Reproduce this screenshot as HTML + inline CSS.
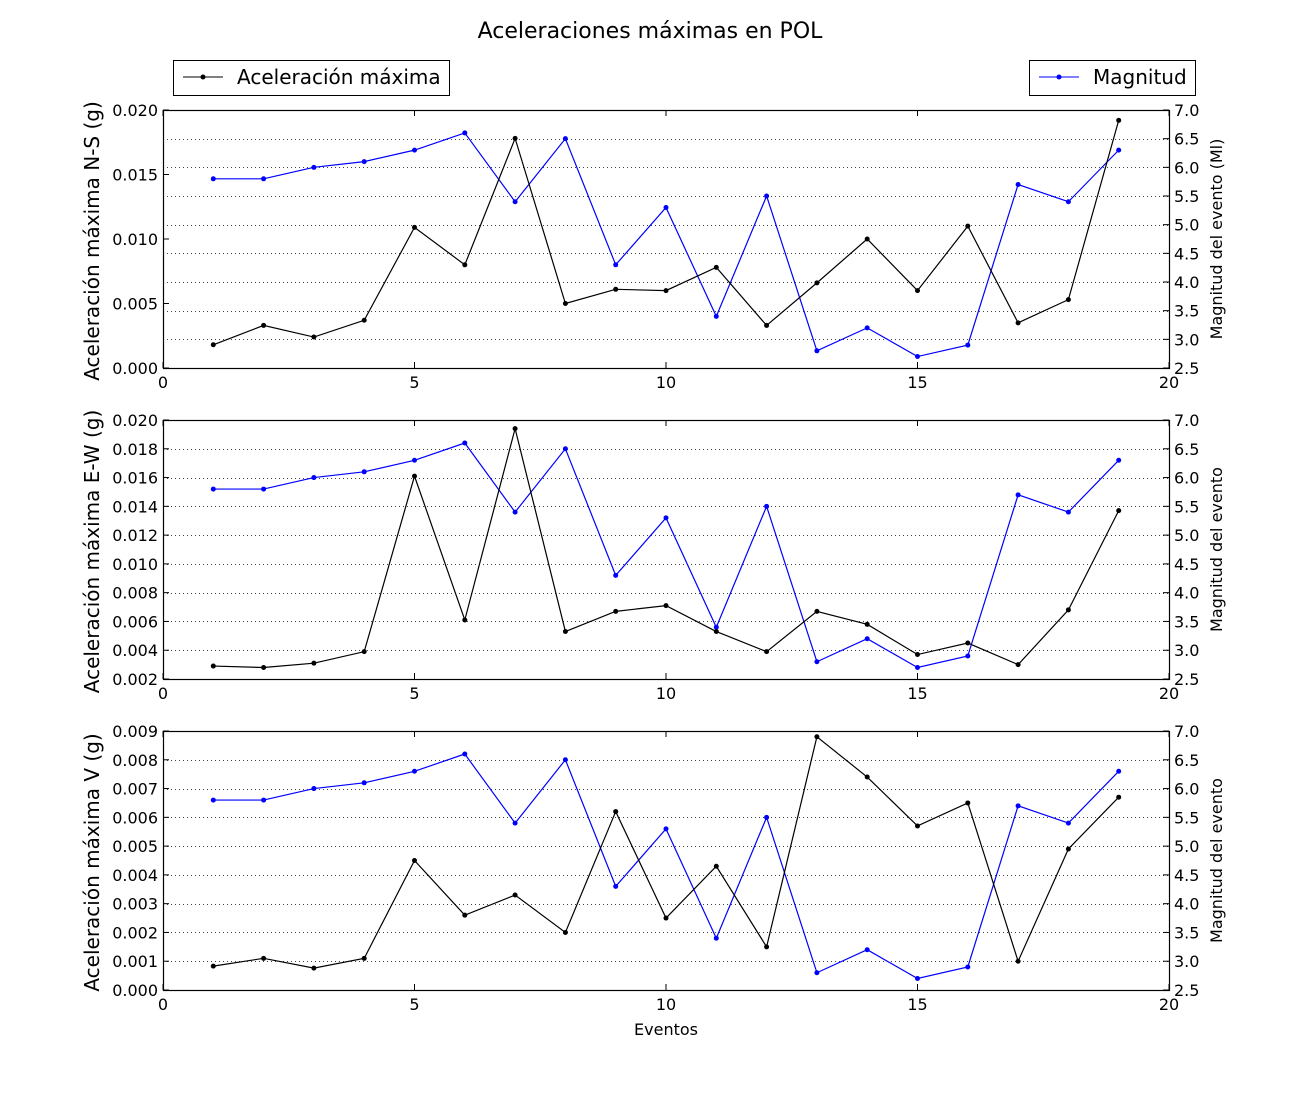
<!DOCTYPE html>
<html><head><meta charset="utf-8"><style>
body{margin:0;background:#fff;}
svg text{font-family:"DejaVu Sans","Liberation Sans",sans-serif;}
</style></head><body>
<svg id="chart" width="1300" height="1100" xmlns="http://www.w3.org/2000/svg">
<rect width="1300" height="1100" fill="#fff"/>
<text x="650" y="38" font-size="22" text-anchor="middle">Aceleraciones máximas en POL</text>
<g>
<rect x="173.5" y="60.5" width="276" height="35" fill="#fff" stroke="#000"/>
<line x1="183" y1="77" x2="223" y2="77" stroke="#000"/><circle cx="203" cy="77" r="2.5" fill="#000"/>
<text x="237" y="84" font-size="20">Aceleración máxima</text></g>
<g>
<rect x="1029.5" y="60.5" width="166" height="35" fill="#fff" stroke="#000"/>
<line x1="1039" y1="77" x2="1079" y2="77" stroke="#00f"/><circle cx="1059" cy="77" r="2.5" fill="#00f"/>
<text x="1093" y="84" font-size="20">Magnitud</text></g>
<text x="666" y="1035" font-size="16" text-anchor="middle">Eventos</text>
</svg>
<script>
const events=[1,2,3,4,5,6,7,8,9,10,11,12,13,14,15,16,17,18,19];
const magnitude=[5.8,5.8,6.0,6.1,6.3,6.6,5.4,6.5,4.3,5.3,3.4,5.5,2.8,3.2,2.7,2.9,5.7,5.4,6.3];
const accNS=[0.0018,0.0033,0.0024,0.0037,0.0109,0.0080,0.0178,0.0050,0.0061,0.0060,0.0078,0.0033,0.0066,0.0100,0.0060,0.0110,0.0035,0.0053,0.0192];
const accEW=[0.0029,0.0028,0.0031,0.0039,0.0161,0.0061,0.0194,0.0053,0.0067,0.0071,0.0053,0.0039,0.0067,0.0058,0.0037,0.0045,0.0030,0.0068,0.0137];
const accV=[0.00083,0.0011,0.00076,0.0011,0.0045,0.0026,0.0033,0.0020,0.0062,0.0025,0.0043,0.0015,0.0088,0.0074,0.0057,0.0065,0.0010,0.0049,0.0067];
const xTicks=[0,5,10,15,20];
const magTicks=[2.5,3.0,3.5,4.0,4.5,5.0,5.5,6.0,6.5,7.0];
const ticksNS=[0,0.005,0.010,0.015,0.020];
const ticksEW=[0.002,0.004,0.006,0.008,0.010,0.012,0.014,0.016,0.018,0.020];
const ticksV=[0,0.001,0.002,0.003,0.004,0.005,0.006,0.007,0.008,0.009];
const NS='http://www.w3.org/2000/svg';
const svg=document.getElementById('chart');
function mk(tag,at,parent){const e=document.createElementNS(NS,tag);for(const k in at)e.setAttribute(k,at[k]);(parent||svg).appendChild(e);return e;}
const X0=163,X1=1169;
function sx(v){return X0+(v-0)/(20-0)*(X1-X0);}
const panels=[
 {top:110,bot:368,data:accNS,ticks:ticksNS,dec:3,lab:'Aceleración máxima N-S (g)',rlab:'Magnitud del evento (Ml)',n:'ns'},
 {top:420,bot:679,data:accEW,ticks:ticksEW,dec:3,lab:'Aceleración máxima E-W (g)',rlab:'Magnitud del evento',n:'ew'},
 {top:731,bot:990,data:accV,ticks:ticksV,dec:3,lab:'Aceleración máxima V (g)',rlab:'Magnitud del evento',n:'v'}];
panels.forEach(p=>{
 const g=mk('g',{});
 
 
 const lmin=p.ticks[0],lmax=p.ticks[p.ticks.length-1];
 const ly=v=>p.bot-(v-lmin)/(lmax-lmin)*(p.bot-p.top);
 const ry=v=>p.bot-(v-2.5)/(7.0-2.5)*(p.bot-p.top);
 magTicks.forEach(t=>{const y=Math.round(ry(t))+0.5;
  const l=mk('line',{x1:X0,x2:X1,y1:y,y2:y,stroke:'#000','stroke-width':0.8,'stroke-dasharray':'1,3'},g);
  
  });
 xTicks.forEach(t=>{const x=sx(t);
  mk('line',{x1:x,x2:x,y1:p.bot,y2:p.bot-6,stroke:'#000'},g);
  mk('line',{x1:x,x2:x,y1:p.top,y2:p.top+6,stroke:'#000'},g);
  const tx=mk('text',{x:x,y:p.bot+20,'font-size':16,'text-anchor':'middle'},g);tx.textContent=t;
  
  });
 p.ticks.forEach(t=>{const y=ly(t);
  mk('line',{x1:X0,x2:X0+6,y1:y,y2:y,stroke:'#000'},g);
  const tx=mk('text',{x:X0-5,y:y+6,'font-size':16,'text-anchor':'end'},g);tx.textContent=t.toFixed(p.dec);
  
  });
 magTicks.forEach(t=>{const y=ry(t);
  mk('line',{x1:X1,x2:X1-6,y1:y,y2:y,stroke:'#000'},g);
  const tx=mk('text',{x:X1+5,y:y+6,'font-size':16},g);tx.textContent=t.toFixed(1);
  
  });
 const yl=mk('text',{x:0,y:0,'font-size':20,'text-anchor':'middle',transform:`translate(99,${(p.top+p.bot)/2+2}) rotate(-90)`},g);yl.textContent=p.lab;
 
 
 const yr=mk('text',{x:0,y:0,'font-size':16,'text-anchor':'middle',transform:`translate(1222,${(p.top+p.bot)/2}) rotate(-90)`},g);yr.textContent=p.rlab;
 
 
 function series(vals,yf,col,name){
  const pl=mk('polyline',{points:vals.map((v,i)=>sx(events[i])+','+yf(v)).join(' '),fill:'none',stroke:col,'stroke-width':1.2},g);
  
  
  vals.forEach((v,i)=>{const c=mk('circle',{cx:sx(events[i]),cy:yf(v),r:2.5,fill:col},g);
   
   });
 }
 series(magnitude,ry,'#00f','magnitud');
 series(p.data,ly,'#000','aceleracion');
 const fr=mk('rect',{x:X0+0.5,y:p.top+0.5,width:X1-X0,height:p.bot-p.top,fill:'none',stroke:'#000','stroke-width':1.2},g);
 
 
});
</script>
</body></html>
